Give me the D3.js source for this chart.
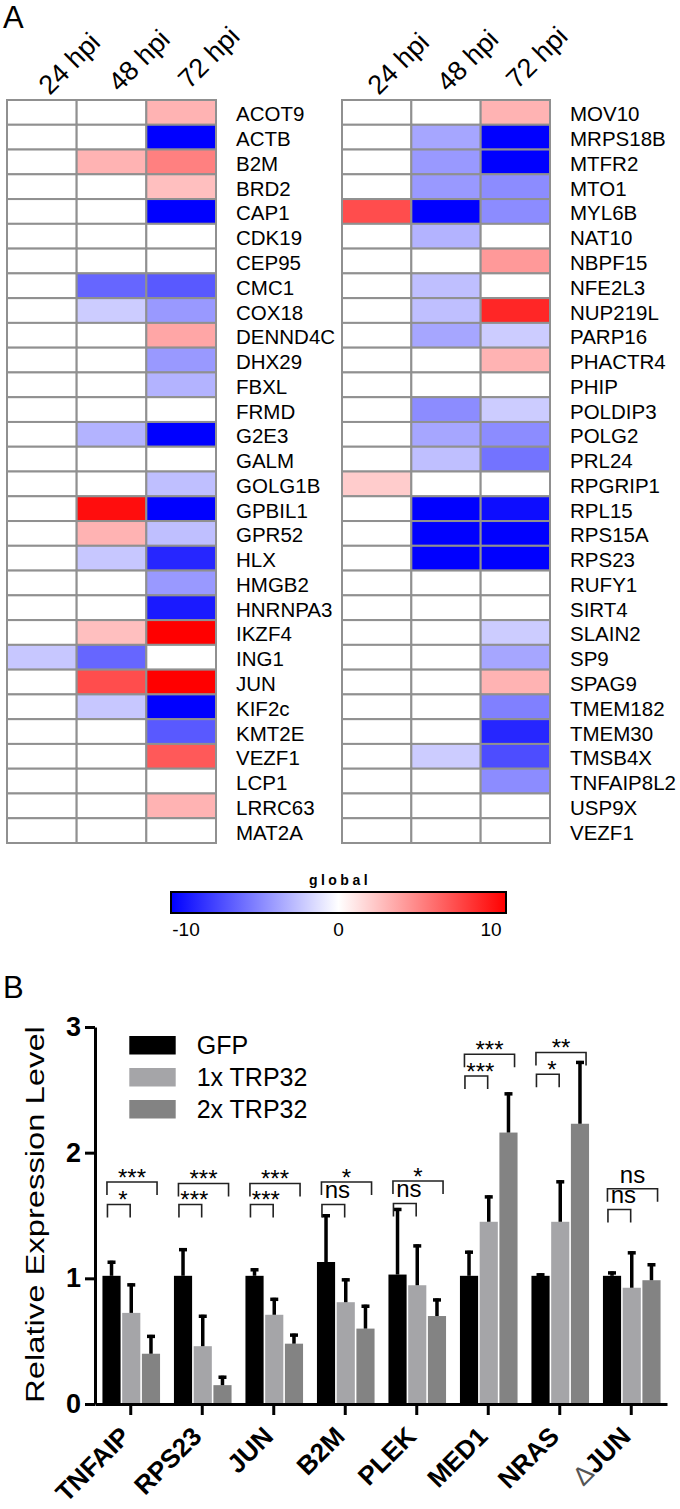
<!DOCTYPE html>
<html><head><meta charset="utf-8">
<script src="https://cdn.jsdelivr.net/npm/d3@7"></script>
<style>
body{margin:0;background:#fff}
svg{display:block}
text{font-family:"Liberation Sans",Arial,Helvetica,sans-serif;fill:#000}
</style>
</head><body>
<svg id="c" width="680" height="1509"></svg>
<script>
// ---------- Panel A data ----------
const timepoints = ["24 hpi", "48 hpi", "72 hpi"];
const genesLeft = ["ACOT9","ACTB","B2M","BRD2","CAP1","CDK19","CEP95","CMC1","COX18","DENND4C","DHX29","FBXL","FRMD","G2E3","GALM","GOLG1B","GPBIL1","GPR52","HLX","HMGB2","HNRNPA3","IKZF4","ING1","JUN","KIF2c","KMT2E","VEZF1","LCP1","LRRC63","MAT2A"];
const left24 = [0,0,0,0,0,0,0,0,0,0,0,0,0,0,0,0,0,0,0,0,0,0,-2.2,0,0,0,0,0,0,0];
const left48 = [0,0,3,0,0,0,0,-6,-2,0,0,0,0,-3,0,0,9.5,3,-2.2,0,0,2.5,-6,7,-2.2,0,0,0,0,0];
const left72 = [3,-10,5,2.5,-10,0,0,-6.5,-4,3.5,-4,-3,0,-10,0,-2.5,-10,-2.5,-8.5,-4,-9,10,0,10,-10,-6.5,6.5,0,3,0];
const genesRight = ["MOV10","MRPS18B","MTFR2","MTO1","MYL6B","NAT10","NBPF15","NFE2L3","NUP219L","PARP16","PHACTR4","PHIP","POLDIP3","POLG2","PRL24","RPGRIP1","RPL15","RPS15A","RPS23","RUFY1","SIRT4","SLAIN2","SP9","SPAG9","TMEM182","TMEM30","TMSB4X","TNFAIP8L2","USP9X","VEZF1"];
const right24 = [0,0,0,0,7,0,0,0,0,0,0,0,0,0,0,2,0,0,0,0,0,0,0,0,0,0,0,0,0,0];
const right48 = [0,-3.5,-4,-4,-10,-3,0,-2.5,-2.5,-3.5,0,0,-4.5,-3.5,-2.5,0,-10,-10,-10,0,0,0,0,0,0,0,-2,0,0,0];
const right72 = [3,-10,-10,-4.5,-4.5,0,4,0,8.5,-2,3,0,-2,-4.5,-5.5,0,-9.5,-10,-10,0,0,-2,-3.5,3,-5,-8.5,-7,-4.5,0,0];
const colorTicks = [-10, 0, 10];
const colorTitle = "global";

// ---------- Panel B data ----------
const barGenes = ["TNFAIP","RPS23","JUN","B2M","PLEK","MED1","NRAS","ΔJUN"];
const series = ["GFP","1x TRP32","2x TRP32"];
const meanGFP = [1.02,1.02,1.02,1.13,1.03,1.02,1.02,1.02];
const mean1x  = [0.725,0.46,0.71,0.81,0.945,1.45,1.45,0.925];
const mean2x  = [0.40,0.15,0.48,0.60,0.70,2.16,2.23,0.985];
const errGFP  = [0.12,0.22,0.06,0.38,0.53,0.20,0.02,0.035];
const err1x   = [0.235,0.25,0.135,0.19,0.325,0.21,0.33,0.29];
const err2x   = [0.15,0.075,0.08,0.19,0.14,0.32,0.50,0.135];
const sigUpper = ["***","***","***","*","*","***","**","ns"];
const sigLower = ["*","***","***","ns","ns","***","*","ns"];
const levelUpper = [1.766,1.755,1.755,1.766,1.774,2.783,2.797,1.713];
const levelLower = [1.588,1.588,1.588,1.588,1.596,2.61,2.624,1.548];
const yTicks = [0,1,2,3];
const yTitle = "Relative Expression Level";

const svg = d3.select("#c");
svg.append("rect").attr("width",680).attr("height",1509).attr("fill","#fff");

// ================= Panel A =================
svg.append("text").attr("x",3).attr("y",28).attr("font-size",31).text("A");
const color = d3.scaleLinear().domain([-10,0,10]).range(["#0000ff","#ffffff","#ff0000"]);

function heatmap(x0, x1, genes, cols, labelX, headDx) {
  const xc = d3.scaleBand().domain(timepoints).range([x0, x1]);
  const yr = d3.scaleBand().domain(d3.range(genes.length)).range([100, 843]);
  const g = svg.append("g");
  genes.forEach((gene, i) => {
    cols.forEach((col, j) => {
      g.append("rect")
        .attr("x", xc(timepoints[j])).attr("y", yr(i))
        .attr("width", xc.bandwidth()).attr("height", yr.bandwidth())
        .attr("fill", color(col[i]))
        .attr("stroke", "#909090").attr("stroke-width", 2);
    });
    g.append("text").attr("x", labelX).attr("y", yr(i) + yr.bandwidth()/2 + 9)
      .attr("font-size", 20.5).text(gene);
  });
  timepoints.forEach((t, j) => {
    g.append("text")
      .attr("transform", `translate(${xc(t) + xc.bandwidth()/2 + headDx},${96 - 3*j}) rotate(-45)`)
      .attr("font-size", 27).text(t);
  });
}
heatmap(7, 216, genesLeft, [left24, left48, left72], 236, 8);
heatmap(342, 550, genesRight, [right24, right48, right72], 570, 2);

// color legend
const defs = svg.append("defs");
const grad = defs.append("linearGradient").attr("id","grad");
d3.range(0, 1.0001, 0.1).forEach(t => {
  grad.append("stop").attr("offset", (t*100)+"%").attr("stop-color", color(-10 + 20*t));
});
svg.append("rect").attr("x",171).attr("y",892).attr("width",335).attr("height",21)
  .attr("fill","url(#grad)").attr("stroke","#000").attr("stroke-width",2);
const cx = d3.scaleLinear().domain([-10,10]).range([186,491]);
colorTicks.forEach(v => {
  svg.append("text").attr("x", cx(v)).attr("y", 936).attr("text-anchor","middle")
    .attr("font-size", 19).text(v);
});
svg.append("text").attr("x", 340).attr("y", 885).attr("text-anchor","middle")
  .attr("font-size", 14).attr("font-weight","bold").attr("letter-spacing", 3.5).text(colorTitle);

// ================= Panel B =================
svg.append("text").attr("x",3).attr("y",998).attr("font-size",31).text("B");

const y = d3.scaleLinear().domain([0,3]).range([1404,1027]);
const x0 = d3.scaleBand().domain(barGenes).range([95,667]);
const groupW = 57.6;
const x1 = d3.scaleBand().domain(series).range([0, groupW]).paddingInner(0.08);
const gOff = (x0.bandwidth() - groupW)/2 + 0.5;
const barColor = d3.scaleOrdinal().domain(series).range(["#000000","#a5a5a8","#838383"]);
const means = [meanGFP, mean1x, mean2x];
const errs = [errGFP, err1x, err2x];

const gb = svg.append("g");
barGenes.forEach((gene, i) => {
  series.forEach((s, k) => {
    const bx = x0(gene) + gOff + x1(s);
    const v = means[k][i], e = errs[k][i];
    gb.append("rect").attr("x", bx).attr("y", y(v))
      .attr("width", x1.bandwidth()).attr("height", y(0) - y(v))
      .attr("fill", barColor(s));
    const ex = bx + x1.bandwidth()/2;
    gb.append("line").attr("x1", ex).attr("x2", ex).attr("y1", y(v)).attr("y2", y(v+e))
      .attr("stroke","#000").attr("stroke-width",3.5);
    gb.append("line").attr("x1", ex-4).attr("x2", ex+4).attr("y1", y(v+e)+1.5).attr("y2", y(v+e)+1.5)
      .attr("stroke","#000").attr("stroke-width",3.5);
  });
  // significance brackets
  const gx = x0(gene) + gOff;
  const blackL = gx + x1("GFP");
  const lightL = gx + x1("1x TRP32");
  const darkR = gx + x1("2x TRP32") + x1.bandwidth();
  const uL = blackL + 4.5, uR = darkR - 3, uy = y(levelUpper[i]);
  const lL = blackL + 5, lR = lightL + 8, ly = y(levelLower[i]);
  [[uL,uR,uy,sigUpper[i],0],[lL,lR,ly,sigLower[i],4]].forEach(([a,b,yy,lab,dx]) => {
    gb.append("path").attr("d", `M${a},${yy+13}V${yy}H${b}V${yy+13}`)
      .attr("fill","none").attr("stroke","#222").attr("stroke-width",1.6);
    gb.append("text").attr("x", (a+b)/2 + dx).attr("y", yy + (lab === "ns" ? -6 : 3.5))
      .attr("text-anchor","middle").attr("font-size",24)
      .attr("fill", lab === "ns" ? "#111" : "#333").text(lab);
  });
});

// axes
const yAxis = svg.append("g").attr("transform","translate(95,0)")
  .call(d3.axisLeft(y).tickValues(yTicks).tickSize(10).tickSizeOuter(0).tickPadding(4).tickFormat(d3.format("d")));
yAxis.select(".domain").attr("stroke","#000").attr("stroke-width",3);
yAxis.selectAll(".tick line").attr("stroke","#000").attr("stroke-width",3);
yAxis.selectAll(".tick text").attr("font-size",27).attr("font-weight","bold")
  .attr("font-family","'Liberation Sans',Arial,sans-serif").attr("fill","#000");

const xAxis = svg.append("g").attr("transform","translate(0,1404)")
  .call(d3.axisBottom(x0).tickSize(11).tickSizeOuter(0).tickFormat(""));
xAxis.select(".domain").attr("stroke","#000").attr("stroke-width",3);
xAxis.selectAll(".tick line").attr("stroke","#000").attr("stroke-width",3);

barGenes.forEach(gene => {
  const tx = x0(gene) + x0.bandwidth()/2 + 1;
  const t = svg.append("text")
    .attr("transform", `translate(${tx},1438) rotate(-45)`)
    .attr("text-anchor","end").attr("font-size",26).attr("font-weight","bold");
  if (gene.startsWith("Δ")) {
    t.append("tspan").attr("font-weight","normal").attr("fill","#555").text("Δ");
    t.append("tspan").text(gene.slice(1));
  } else t.text(gene);
});

svg.append("text")
  .attr("transform","translate(43.5,1214.5) rotate(-90) scale(1.26,1)")
  .attr("text-anchor","middle").attr("font-size",26).text(yTitle);

// legend
series.forEach((s, k) => {
  const ly = 1036 + k*32;
  svg.append("rect").attr("x",129.3).attr("y",ly).attr("width",46.4).attr("height",18.5).attr("fill",barColor(s));
  svg.append("text").attr("x",196.7).attr("y",ly+18).attr("font-size",25).text(s);
});
</script>
</body></html>
